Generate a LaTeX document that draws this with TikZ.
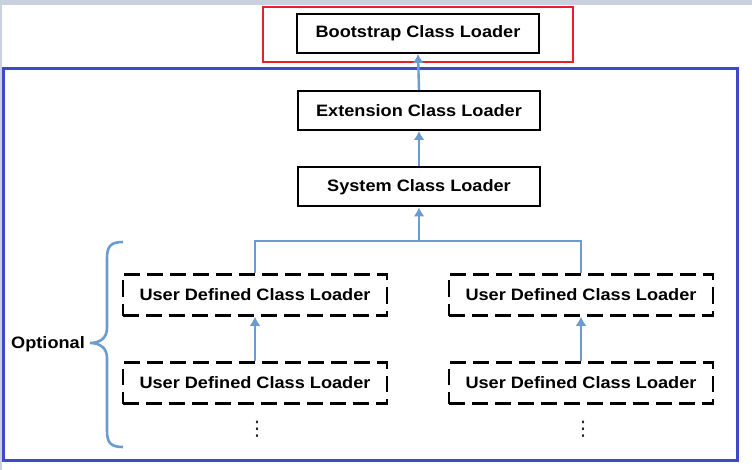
\documentclass[tikz,border=0pt]{standalone}
\usepackage{fontspec}
\newfontfamily\lbl[FakeStretch=1.1]{Liberation Sans}
\newfontfamily\symf{DejaVu Sans}
\usetikzlibrary{arrows.meta}
\definecolor{bgstrip}{HTML}{C9D1E1}
\definecolor{frameblue}{HTML}{3E48C8}
\definecolor{framered}{HTML}{E8202A}
\definecolor{linkblue}{HTML}{6B9BD1}
\tikzset{
  solidbox/.style={draw=black, line width=2pt, fill=white, minimum width=242pt, minimum height=39pt, inner sep=0pt,
    font=\lbl\bfseries\fontsize{16.5}{18}\selectfont},
  dashbox/.style={draw=black, line width=2.6pt, dash pattern=on 16pt off 7pt, minimum width=264pt, minimum height=41pt, inner sep=0pt,
    font=\lbl\bfseries\fontsize{16.5}{18}\selectfont},
  link/.style={draw=linkblue, line width=2.4pt},
  arrowlink/.style={link, -{Latex[length=9pt,width=11pt]}},
  dotsnode/.style={inner sep=0pt, text=black!85, font=\symf\fontsize{20}{20}\selectfont},
}
\begin{document}
\begin{tikzpicture}[x=1pt,y=-1pt]
\useasboundingbox (0,0) rectangle (752,470);
\fill[bgstrip] (0,0) rectangle (752,470);
\fill[white] (2,5) rectangle (752,470);

% frames
\node[draw=framered, line width=2.6pt, minimum width=310pt, minimum height=55pt, inner sep=0pt] (redframe) at (418,34.5) {};
\node[draw=frameblue, line width=3pt, minimum width=734pt, minimum height=391pt, inner sep=0pt] (blueframe) at (370,264.5) {};

% main loaders
\node[solidbox] (boot) at (418,33.5) {Bootstrap Class Loader};
\node[solidbox] (ext) at (419,110.5) {Extension Class Loader};
\node[solidbox] (sys) at (419,187) {System Class Loader};

% user defined loaders
\node[dashbox] (ud1) at (255,295) {User Defined Class Loader};
\node[dashbox] (ud2) at (255,383) {User Defined Class Loader};
\node[dashbox] (ud3) at (581,295) {User Defined Class Loader};
\node[dashbox] (ud4) at (581,383) {User Defined Class Loader};

% continuation dots
\node[dotsnode] (dots1) at (257,429) {⋮};
\node[dotsnode] (dots2) at (583,429) {⋮};

% connectors
\coordinate (bar) at (419,241);
\draw[link] (ud1.north) |- (bar) -| (ud3.north);
\draw[arrowlink] (bar) -- (sys.south);
\draw[arrowlink] (sys.north) -- (ext.south);
\draw[arrowlink] (ext.north) -- (boot.south);
\draw[arrowlink] (ud2.north) -- (ud1.south);
\draw[arrowlink] (ud4.north) -- (ud3.south);

% brace and label
\draw[linkblue, line width=2.6pt]
  (123,242) .. controls (111,242) and (107,246) .. (107,258) -- (107,328)
  .. controls (107,338) and (100,343) .. (90,343)
  .. controls (100,343) and (107,348) .. (107,358) -- (107,431)
  .. controls (107,443) and (111,447) .. (123,447);
\node[font=\lbl\bfseries\fontsize{16.5}{18}\selectfont, inner sep=0pt] (opt) at (48,344) {Optional};
\end{tikzpicture}
\end{document}
